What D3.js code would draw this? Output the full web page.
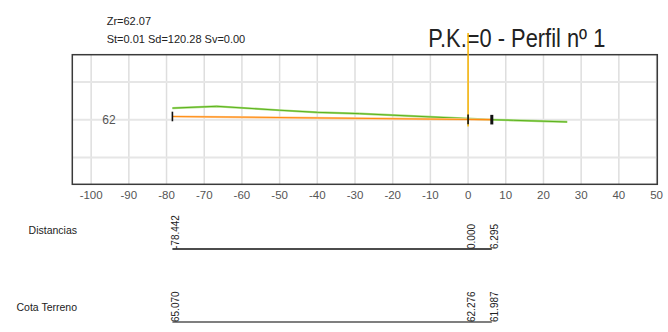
<!DOCTYPE html>
<html><head><meta charset="utf-8">
<script src="https://cdn.jsdelivr.net/npm/d3@7"></script>
<style>body{margin:0;background:#fff} svg{display:block}</style>
</head><body>
<svg id="c" width="668" height="332"></svg>
<script>
// ---- data ----
const xTicks = [-100, -90, -80, -70, -60, -50, -40, -30, -20, -10, 0, 10, 20, 30, 40, 50];
const yGrid = [52, 62, 72];
const yLabels = [62];
const terrainX = [-78.442, -66.7, -50, -40, -28.8, 0, 6.295, 12, 26.3];
const terrainZ = [65.070, 65.55, 64.5, 63.95, 63.6, 62.276, 61.987, 61.84, 61.4];
const projX = [-78.442, 0, 6.295];
const projZ = [62.85, 62.07, 62.007];
const axisLineZ = [60.2, 85];          // vertical P.K. axis extent
const distLabels = ["-78.442", "0.000", "6.295"];
const cotaLabels = ["65.070", "62.276", "61.987"];
const title = "P.K.=0 - Perfil nº 1";
const info1 = "Zr=62.07";
const info2 = "St=0.01 Sd=120.28 Sv=0.00";

// ---- layout ----
const svg = d3.select("#c");
const L = 72.3, R = 657.3, T = 54.7, B = 184.3;
const x = d3.scaleLinear().domain([-105, 50.2]).range([L, R]);
const y = d3.scaleLinear().domain([44.88, 79.22]).range([B, T]);
const narrow = "'Liberation Sans Narrow', 'Arial Narrow', 'Liberation Sans', Arial, sans-serif";
const sans = "'Liberation Sans', Arial, sans-serif";

// gridlines
svg.append("g").selectAll("line").data(xTicks).join("line")
  .attr("x1", d => x(d)).attr("x2", d => x(d)).attr("y1", T).attr("y2", B)
  .attr("stroke", "#dedede").attr("stroke-width", 1.5);
svg.append("g").selectAll("line").data(yGrid).join("line")
  .attr("x1", L).attr("x2", R).attr("y1", d => y(d)).attr("y2", d => y(d))
  .attr("stroke", "#e6e6e6").attr("stroke-width", 2);

// frame
svg.append("rect").attr("x", L).attr("y", T).attr("width", R - L).attr("height", B - T)
  .attr("fill", "none").attr("stroke", "#3a3a3a").attr("stroke-width", 1.5);

// x axis labels
svg.append("g").selectAll("text").data(xTicks).join("text")
  .attr("x", d => x(d)).attr("y", 199).attr("text-anchor", "middle")
  .attr("font-family", narrow).attr("font-size", 11.5).attr("fill", "#555")
  .text(d => d);
// y labels
svg.append("g").selectAll("text").data(yLabels).join("text")
  .attr("x", 109).attr("y", d => y(d) + 4.3).attr("text-anchor", "middle")
  .attr("font-family", narrow).attr("font-size", 12).attr("fill", "#555")
  .text(d => d);

const line = d3.line().x(d => x(d[0])).y(d => y(d[1]));
// terrain
const terr = terrainX.map((v, i) => [v, terrainZ[i]]);
svg.append("path").attr("d", line(terr)).attr("fill", "none")
  .attr("stroke", "#a6dc78").attr("stroke-width", 2.2);
svg.append("path").attr("d", line(terr)).attr("fill", "none")
  .attr("stroke", "#5cb21e").attr("stroke-width", 1);
// project
const proj = projX.map((v, i) => [v, projZ[i]]);
svg.append("path").attr("d", line(proj)).attr("fill", "none")
  .attr("stroke", "#ffc58a").attr("stroke-width", 2.2);
svg.append("path").attr("d", line(proj)).attr("fill", "none")
  .attr("stroke", "#ff8c10").attr("stroke-width", 1.1);

// title & info
svg.append("text").attr("x", 428.3).attr("y", 46.7)
  .attr("font-family", sans).attr("font-size", 25.5).attr("fill", "#222")
  .attr("textLength", 177).attr("lengthAdjust", "spacingAndGlyphs").text(title);
svg.append("text").attr("x", 106.7).attr("y", 25)
  .attr("font-family", sans).attr("font-size", 11).attr("fill", "#222").text(info1);
svg.append("text").attr("x", 106.7).attr("y", 43.3)
  .attr("font-family", sans).attr("font-size", 11).attr("fill", "#222").text(info2);

// P.K. axis
svg.append("line").attr("x1", x(0)).attr("x2", x(0))
  .attr("y1", y(axisLineZ[1])).attr("y2", y(axisLineZ[0]))
  .attr("stroke", "#f8b400").attr("stroke-width", 1.5);

// markers
svg.append("g").selectAll("line").data(proj).join("line")
  .attr("x1", d => x(d[0])).attr("x2", d => x(d[0]))
  .attr("y1", d => y(d[1]) - 4.8).attr("y2", d => y(d[1]) + 4.8)
  .attr("stroke", "#111").attr("stroke-width", (d, i) => i === proj.length - 1 ? 3 : 1.6);

// guitar rows
const rows = [
  {name: "Distancias", labels: distLabels, labelY: 234, lineY: 249, color: "#111"},
  {name: "Cota Terreno", labels: cotaLabels, labelY: 311, lineY: 322, color: "#555"}
];
rows.forEach(r => {
  svg.append("text").attr("x", 77).attr("y", r.labelY).attr("text-anchor", "end")
    .attr("font-family", sans).attr("font-size", 10.5).attr("fill", "#222").text(r.name);
  svg.append("line").attr("x1", x(projX[0])).attr("x2", x(projX[projX.length - 1]))
    .attr("y1", r.lineY).attr("y2", r.lineY).attr("stroke", r.color).attr("stroke-width", 1.3);
  svg.append("g").selectAll("text").data(r.labels).join("text")
    .attr("transform", (d, i) => `translate(${x(projX[i]) + 6.5},${r.lineY}) rotate(-90)`)
    .attr("font-family", sans).attr("font-size", 10).attr("fill", "#222")
    .text(d => d);
});
</script>
</body></html>
